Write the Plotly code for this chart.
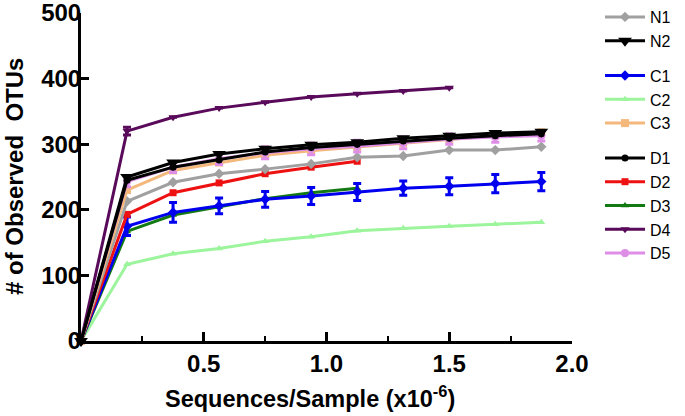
import plotly.graph_objects as go

# x positions of rarefaction depths (Sequences/Sample x10^-6)
x_depth = [0, 0.1875, 0.375, 0.5625, 0.75, 0.9375, 1.125, 1.3125, 1.5, 1.6875, 1.875]

series_names = ["N1", "N2", "C1", "C2", "C3", "D1", "D2", "D3", "D4", "D5"]
N1 = [0, 213, 242, 255, 262, 270, 280, 282, 291, 291, 296]
N2 = [0, 250, 272, 285, 293, 299, 303, 309, 313, 317, 319]
C1 = [0, 175, 196, 206, 216, 221, 227, 233, 236, 240, 243]
C1_err = [0, 14, 15, 12, 12, 13, 13, 11, 13, 14, 14]
C2 = [0, 117, 133, 141, 152, 159, 168, 172, 175, 178, 181]
C3 = [0, 230, 260, 272, 283, 290, 296, 302, 308, 313, 318]
D1 = [0, 245, 265, 276, 288, 295, 300, 305, 309, 313, 316]
D2 = [0, 193, 226, 241, 255, 265, 274]
D3 = [0, 167, 192, 204, 217, 226, 233]
D4 = [0, 320, 341, 355, 364, 372, 377, 381, 386]
D4_err = [0, 6, 0, 0, 0, 0, 0, 0, 0]
D5 = [0, 243, 265, 278, 287, 293, 297, 302, 308, 311, 313]
D5_err = [0, 8, 8, 9, 9, 9, 9, 9, 8, 8, 8]

y_ticks = [0, 100, 200, 300, 400, 500]
x_ticks = [0.5, 1.0, 1.5, 2.0]
x_ticklabels = ["0.5", "1.0", "1.5", "2.0"]
x_title = "Sequences/Sample (x10<sup>-6</sup>)"
y_title = "# of Observed\u00a0 OTUs"

FONT = "Liberation Sans, Arial, Helvetica, sans-serif"
W, H = 685, 416

# (name, values, errors, color, symbol, size, group, legend rank) in draw order
specs = [
    ("D4", D4, D4_err, "#5a0a5a", "triangle-down", 8, "D", 9),
    ("C2", C2, None, "#9cf59c", "triangle-up", 7, "C", 4),
    ("D3", D3, None, "#137a13", "triangle-up", 7, "D", 8),
    ("C1", C1, C1_err, "#0000ee", "diamond", 8, "C", 3),
    ("D2", D2, None, "#ee1111", "square", 7, "D", 7),
    ("N1", N1, None, "#a0a0a0", "diamond", 8, "N", 1),
    ("C3", C3, None, "#f4b87c", "square", 8, "C", 5),
    ("D5", D5, D5_err, "#df8ee8", "circle", 8, "D", 10),
    ("D1", D1, None, "#000000", "circle", 7, "D", 6),
    ("N2", N2, None, "#000000", "triangle-down", 12, "N", 2),
]

fig = go.Figure()
for name, vals, err, color, sym, size, grp, rank in specs:
    kw = {}
    if err is not None:
        kw["error_y"] = dict(type="data", array=err, color=color, thickness=3, width=4)
    fig.add_trace(go.Scatter(
        x=x_depth[:len(vals)], y=vals, name=name, mode="lines+markers",
        line=dict(color=color, width=3),
        marker=dict(color=color, symbol=sym, size=size),
        legendgroup=grp, legendrank=rank, cliponaxis=False, **kw))

fig.update_layout(
    width=W, height=H,
    margin=dict(l=81, r=113, t=13, b=75, autoexpand=False),
    plot_bgcolor="white", paper_bgcolor="white",
    font=dict(family=FONT, color="black"),
    showlegend=True,
    legend=dict(
        xref="container", yref="container",
        x=600 / W, xanchor="left", y=1 + 9 / H, yanchor="top",
        traceorder="grouped", tracegroupgap=11, maxheight=H,
        itemwidth=40,
        font=dict(size=16, family=FONT, color="black"),
        bgcolor="rgba(0,0,0,0)",
    ),
    xaxis=dict(
        range=[0, 2.0], showgrid=False, zeroline=False, automargin=False,
        showline=True, linecolor="black", linewidth=3,
        ticks="inside", ticklen=9, tickwidth=3, tickcolor="black",
        tickvals=x_ticks, ticktext=x_ticklabels,
        ticklabeloverflow="allow", ticklabelstandoff=-1,
        tickfont=dict(size=24, family=FONT, weight="bold"),
        minor=dict(dtick=0.25, tick0=0, ticks="inside", ticklen=5, tickwidth=2, tickcolor="black"),
    ),
    yaxis=dict(
        range=[0, 500], showgrid=False, zeroline=False, automargin=False,
        showline=True, linecolor="black", linewidth=3,
        ticks="inside", ticklen=8, tickwidth=3, tickcolor="black",
        tickvals=y_ticks,
        ticklabeloverflow="allow", ticklabelstandoff=-8,
        tickfont=dict(size=24, family=FONT, weight="bold"),
    ),
    annotations=[
        dict(text=x_title, xref="paper", yref="paper",
             x=(310 - 81) / 491, y=(341 - 397) / 328,
             xanchor="center", yanchor="middle", showarrow=False,
             font=dict(size=23.5, family=FONT, weight="bold", color="black")),
        dict(text=y_title, xref="paper", yref="paper",
             x=(14 - 81) / 491, y=(341 - 177) / 328, textangle=-90,
             xanchor="center", yanchor="middle", showarrow=False,
             font=dict(size=24, family=FONT, weight="bold", color="black")),
    ],
)

# remove the default 8px page margin so the figure fills the window exactly
fig.write_html("out.html", config={"displayModeBar": False},
               post_script="document.body.style.margin='0px';")
